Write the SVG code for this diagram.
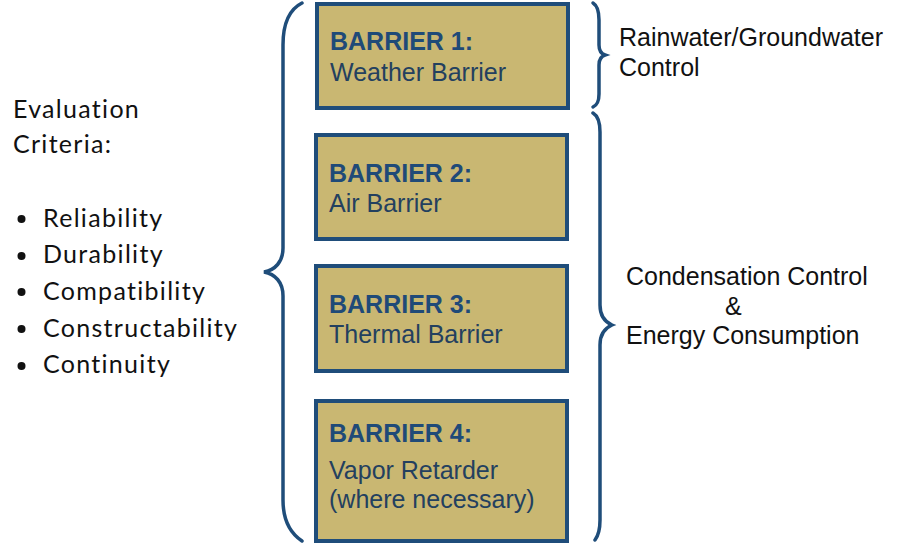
<svg xmlns="http://www.w3.org/2000/svg" width="900" height="550" viewBox="0 0 900 550">
<style>
.box{fill:#c9b772;stroke:#1f4d7a;stroke-width:4}
.bt{font-family:"Liberation Sans",Arial,sans-serif;font-size:25px;font-weight:bold;fill:#1f4a78}
.rt{font-family:"Liberation Sans",Arial,sans-serif;font-size:25px;fill:#23405f}
.side{font-family:"Liberation Sans",Arial,sans-serif;font-size:25px;fill:#111}
.crit{font-family:"Lato","Open Sans",sans-serif;font-size:25px;letter-spacing:1.3px;fill:#111}
.brace{fill:none;stroke:#1f4d7a;stroke-width:3.5;stroke-linecap:round}
</style>
<rect width="900" height="550" fill="#fff"/>
<g id="criteria">
<text class="crit" x="13" y="118">Evaluation</text>
<text class="crit" x="13" y="153">Criteria:</text>
<circle cx="21.5" cy="219" r="4" fill="#111"/>
<text class="crit" x="43" y="227">Reliability</text>
<circle cx="21.5" cy="256" r="4" fill="#111"/>
<text class="crit" x="43" y="263">Durability</text>
<circle cx="21.5" cy="292" r="4" fill="#111"/>
<text class="crit" x="43" y="300">Compatibility</text>
<circle cx="21.5" cy="329" r="4" fill="#111"/>
<text class="crit" x="43" y="337">Constructability</text>
<circle cx="21.5" cy="366" r="4" fill="#111"/>
<text class="crit" x="43" y="373">Continuity</text>
</g>
<g id="barrier1">
<rect class="box" x="317" y="4" width="251" height="104"/>
<text class="bt" x="330" y="50">BARRIER 1:</text>
<text class="rt" x="330" y="81">Weather Barrier</text>
</g>
<g id="barrier2">
<rect class="box" x="316" y="135" width="251" height="104"/>
<text class="bt" x="329" y="182">BARRIER 2:</text>
<text class="rt" x="329" y="212">Air Barrier</text>
</g>
<g id="barrier3">
<rect class="box" x="316" y="266" width="251" height="105"/>
<text class="bt" x="329" y="313">BARRIER 3:</text>
<text class="rt" x="329" y="343">Thermal Barrier</text>
</g>
<g id="barrier4">
<rect class="box" x="316" y="401" width="251" height="140"/>
<text class="bt" x="329" y="442">BARRIER 4:</text>
<text class="rt" x="329" y="479">Vapor Retarder</text>
<text class="rt" x="329" y="508">(where necessary)</text>
</g>
<g id="connectors">
<path class="brace" d="M302,3 C288,10 283,25 283,45 L283,248 C283,262 275,270 264,272 C275,274 283,282 283,296 L283,500 C283,520 290,533 302,541"/>
<path class="brace" d="M593,3 C598,6 599,12 599,20 L599,45 C599,51 602,54 605,55 C602,56 599,59 599,65 L599,94 C599,102 597,105 593,107"/>
<path class="brace" d="M593,113 C598,116 600,122 600,132 L600,305 C600,317 605,322 612,325 C605,328 600,333 600,345 L600,520 C600,530 598,536 595,540"/>
</g>
<g id="labels">
<text class="side" x="619" y="46">Rainwater/Groundwater</text>
<text class="side" x="619" y="76">Control</text>
<text class="side" x="626" y="285">Condensation Control</text>
<text class="side" x="725" y="315">&amp;</text>
<text class="side" x="626" y="344">Energy Consumption</text>
</g>
</svg>
